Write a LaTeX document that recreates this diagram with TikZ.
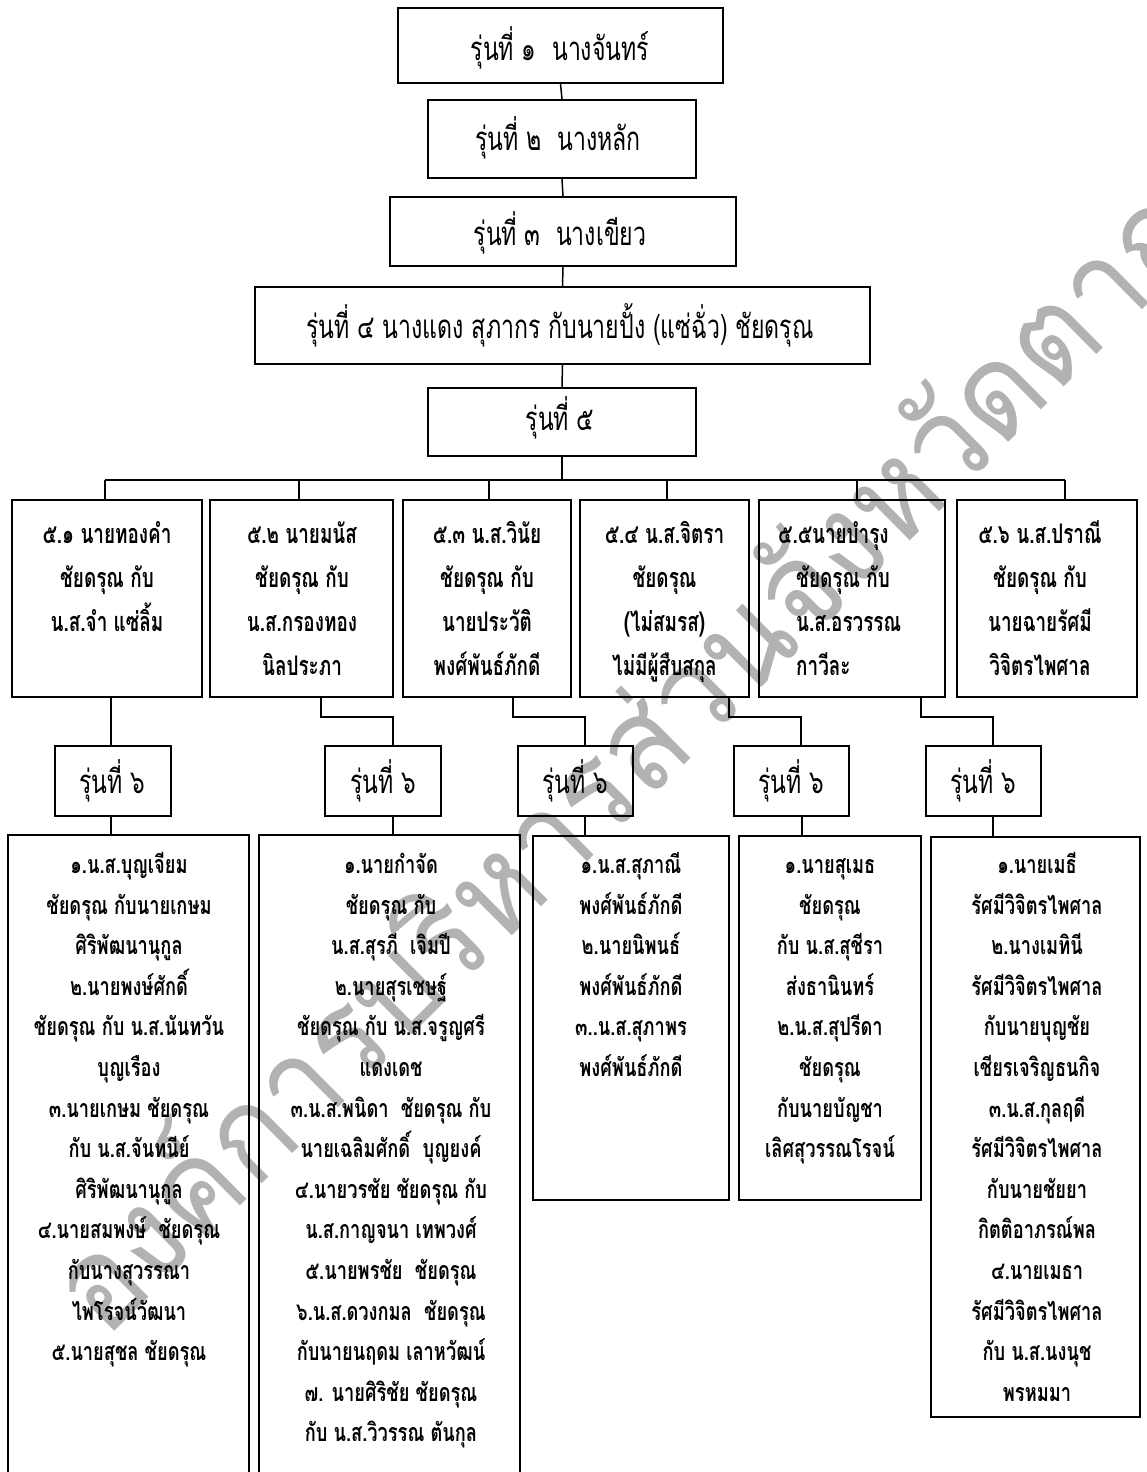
\documentclass[tikz,border=0pt]{standalone}
\usepackage{fontspec}
\newfontfamily\thai[Script=Thai,FakeStretch=0.70]{Loma}
\newfontfamily\thaibig[Script=Thai,FakeStretch=0.73]{Loma}
\newfontfamily\thaiwm[Script=Thai,FakeStretch=0.92]{Loma}
\begin{document}
\begin{tikzpicture}[x=1pt,y=-1pt,
  box/.style={draw, line width=2.2pt, inner sep=0pt},
  conn/.style={line width=1.5pt},
  toptxt/.style={font=\thai\fontsize{33}{38}\selectfont, anchor=base, inner sep=0pt},
  midtxt/.style={font=\thai\bfseries\fontsize{27}{32}\selectfont, anchor=base, inner sep=0pt},
  bigtxt/.style={font=\thaibig\bfseries\fontsize{25}{30}\selectfont, anchor=base, inner sep=0pt},
  wm/.style={font=\thaiwm\fontsize{130}{134}\selectfont, text=black!30, inner sep=0pt}]
\useasboundingbox (0,0) rectangle (1147,1472);
\fill[white] (0,0) rectangle (1147,1472);
% watermark
\node[wm, rotate=44.8, anchor=base] (wm) at (657,792) {องค์การบริหารส่วนจังหวัดตาก};
% top chain
\node[box, minimum width=325pt, minimum height=75pt] (b1) at (560.5,45.5) {};
\node[box, minimum width=268pt, minimum height=78pt] (b2) at (562,139) {};
\node[box, minimum width=346pt, minimum height=69pt] (b3) at (563,231.5) {};
\node[box, minimum width=615pt, minimum height=77pt] (b4) at (562.5,325.5) {};
\node[box, minimum width=268pt, minimum height=68pt] (b5) at (562,422) {};
\node[toptxt] (b1t) at (560,60) {รุ่นที่ ๑\ \ นางจันทร์};
\node[toptxt] (b2t) at (558,150) {รุ่นที่ ๒\ \ นางหลัก};
\node[toptxt] (b3t) at (560,245) {รุ่นที่ ๓\ \ นางเขียว};
\node[toptxt] (b4t) at (560,338) {รุ่นที่ ๔ นางแดง สุภากร กับนายปั้ง (แซ่ฉั่ว) ชัยดรุณ};
\node[toptxt] (b5t) at (560,430) {รุ่นที่ ๕};
\draw[conn] (b1.south) -- (b2.north);
\draw[conn] (b2.south) -- (b3.north);
\draw[conn] (b3.south) -- (b4.north);
\draw[conn] (b4.south) -- (b5.north);
% generation 5 boxes
\node[box, minimum width=190pt, minimum height=197pt] (l1) at (107,598.5) {};
\node[box, minimum width=183pt, minimum height=197pt] (l2) at (301.5,598.5) {};
\node[box, minimum width=168pt, minimum height=197pt] (l3) at (487,598.5) {};
\node[box, minimum width=169pt, minimum height=197pt] (l4) at (664.5,598.5) {};
\node[box, minimum width=186pt, minimum height=197pt] (l5) at (852,598.5) {};
\node[box, minimum width=180pt, minimum height=197pt] (l6) at (1047,598.5) {};
% bus
\coordinate (t1) at (105,480);
\coordinate (t2) at (299,480);
\coordinate (t3) at (489,480);
\coordinate (t4) at (667,480);
\coordinate (t5) at (857,480);
\coordinate (t6) at (1065,480);
\draw[conn] (b5.south) -- (b5.south |- t1);
\draw[conn] (t1) -- (t6);
\foreach \k in {1,...,6} \draw[conn] (t\k) -- (t\k |- l\k.north);
% gen 5 texts
\foreach \t [count=\i] in {๕.๑ นายทองคำ, ชัยดรุณ กับ, น.ส.จำ แซ่ลิ้ม}
  \node[midtxt] (l1t\i) at (107,{543+44.3*(\i-1)}) {\t};
\foreach \t [count=\i] in {๕.๒ นายมนัส, ชัยดรุณ กับ, น.ส.กรองทอง, นิลประภา}
  \node[midtxt] (l2t\i) at (302,{543+44.3*(\i-1)}) {\t};
\foreach \t [count=\i] in {๕.๓ น.ส.วินัย, ชัยดรุณ กับ, นายประวัติ, พงศ์พันธ์ภักดี}
  \node[midtxt] (l3t\i) at (487,{543+44.3*(\i-1)}) {\t};
\foreach \t [count=\i] in {๕.๔ น.ส.จิตรา, ชัยดรุณ, (ไม่สมรส), ไม่มีผู้สืบสกุล}
  \node[midtxt] (l4t\i) at (664.5,{543+44.3*(\i-1)}) {\t};
\node[midtxt, anchor=base west] (l5t1) at (778,543) {๕.๕นายบำรุง};
\foreach \t [count=\i from 2] in {ชัยดรุณ กับ, น.ส.อรวรรณ, กาวีละ}
  \node[midtxt, anchor=base west] (l5t\i) at (796,{543+44.3*(\i-1)}) {\t};
\foreach \t [count=\i] in {๕.๖ น.ส.ปราณี, ชัยดรุณ กับ, นายฉายรัศมี, วิจิตรไพศาล}
  \node[midtxt] (l6t\i) at (1040,{543+44.3*(\i-1)}) {\t};
% generation 6 boxes
\node[box, minimum width=116pt, minimum height=70pt] (g1) at (113,781) {};
\node[box, minimum width=116pt, minimum height=70pt] (g2) at (383,781) {};
\node[box, minimum width=115pt, minimum height=70pt] (g3) at (575.5,781) {};
\node[box, minimum width=115pt, minimum height=70pt] (g4) at (791.5,781) {};
\node[box, minimum width=115pt, minimum height=70pt] (g5) at (983.5,781) {};
\node[toptxt] (g1t) at (112,793) {รุ่นที่ ๖};
\node[toptxt] (g2t) at (383,793) {รุ่นที่ ๖};
\node[toptxt] (g3t) at (575,793) {รุ่นที่ ๖};
\node[toptxt] (g4t) at (791,793) {รุ่นที่ ๖};
\node[toptxt] (g5t) at (983,793) {รุ่นที่ ๖};
\draw[conn] ([xshift=4pt]l1.south) -- ([xshift=-2pt]g1.north);
\draw[conn] ([xshift=19.5pt]l2.south) -- ++(0,19) -| ([xshift=10pt]g2.north);
\draw[conn] ([xshift=26pt]l3.south) -- ++(0,19) -| ([xshift=9.5pt]g3.north);
\draw[conn] ([xshift=64.5pt]l4.south) -- ++(0,19) -| ([xshift=9.5pt]g4.north);
\draw[conn] ([xshift=69pt]l5.south) -- ++(0,19) -| ([xshift=9.5pt]g5.north);
% big boxes
\node[box, minimum width=241pt, minimum height=639pt] (k1) at (128.5,1154.5) {};
\node[box, minimum width=261pt, minimum height=639pt] (k2) at (389.5,1154.5) {};
\node[box, minimum width=196pt, minimum height=364pt] (k3) at (631,1018) {};
\node[box, minimum width=182pt, minimum height=364pt] (k4) at (830,1018) {};
\node[box, minimum width=209pt, minimum height=580pt] (k5) at (1035.5,1127) {};
\draw[conn] ([xshift=-2pt]g1.south) -- ([xshift=-2pt]g1.south |- k1.north);
\draw[conn] ([xshift=10pt]g2.south) -- ([xshift=10pt]g2.south |- k2.north);
\draw[conn] ([xshift=9.5pt]g3.south) -- ([xshift=9.5pt]g3.south |- k3.north);
\draw[conn] ([xshift=10.5pt]g4.south) -- ([xshift=10.5pt]g4.south |- k4.north);
\draw[conn] ([xshift=9.5pt]g5.south) -- ([xshift=9.5pt]g5.south |- k5.north);
% big box texts
\foreach \t [count=\i] in {๑.น.ส.บุญเจียม, ชัยดรุณ กับนายเกษม, ศิริพัฒนานุกูล, ๒.นายพงษ์ศักดิ์, ชัยดรุณ กับ น.ส.นันทวัน, บุญเรือง, ๓.นายเกษม ชัยดรุณ, กับ น.ส.จันทนีย์, ศิริพัฒนานุกูล, ๔.นายสมพงษ์\ \ ชัยดรุณ, กับนางสุวรรณา, ไพโรจน์วัฒนา, ๕.นายสุชล ชัยดรุณ}
  \node[bigtxt] (k1t\i) at (129,{873.5+40.6*(\i-1)}) {\t};
\foreach \t [count=\i] in {๑.นายกำจัด, ชัยดรุณ กับ, น.ส.สุรภี\ \ เจิมปี, ๒.นายสุรเชษฐ์, ชัยดรุณ กับ น.ส.จรูญศรี, แดงเดช, ๓.น.ส.พนิดา\ \ ชัยดรุณ กับ, นายเฉลิมศักดิ์\ \ บุญยงค์, ๔.นายวรชัย ชัยดรุณ กับ, น.ส.กาญจนา เทพวงศ์, ๕.นายพรชัย\ \ ชัยดรุณ, ๖.น.ส.ดวงกมล\ \ ชัยดรุณ, กับนายนฤดม เลาหวัฒน์, ๗. นายศิริชัย ชัยดรุณ, กับ น.ส.วิวรรณ ตันกุล}
  \node[bigtxt] (k2t\i) at (391,{873.5+40.6*(\i-1)}) {\t};
\foreach \t [count=\i] in {๑.น.ส.สุภาณี, พงศ์พันธ์ภักดี, ๒.นายนิพนธ์, พงศ์พันธ์ภักดี, ๓..น.ส.สุภาพร, พงศ์พันธ์ภักดี}
  \node[bigtxt] (k3t\i) at (631,{873.5+40.6*(\i-1)}) {\t};
\foreach \t [count=\i] in {๑.นายสุเมธ, ชัยดรุณ, กับ น.ส.สุชีรา, ส่งธานินทร์, ๒.น.ส.สุปรีดา, ชัยดรุณ, กับนายบัญชา, เลิศสุวรรณโรจน์}
  \node[bigtxt] (k4t\i) at (830,{873.5+40.6*(\i-1)}) {\t};
\foreach \t [count=\i] in {๑.นายเมธี, รัศมีวิจิตรไพศาล, ๒.นางเมทินี, รัศมีวิจิตรไพศาล, กับนายบุญชัย, เชียรเจริญธนกิจ, ๓.น.ส.กุลฤดี, รัศมีวิจิตรไพศาล, กับนายชัยยา, กิตติอาภรณ์พล, ๔.นายเมธา, รัศมีวิจิตรไพศาล, กับ น.ส.นงนุช, พรหมมา}
  \node[bigtxt] (k5t\i) at (1037,{873.5+40.6*(\i-1)}) {\t};
\end{tikzpicture}
\end{document}
